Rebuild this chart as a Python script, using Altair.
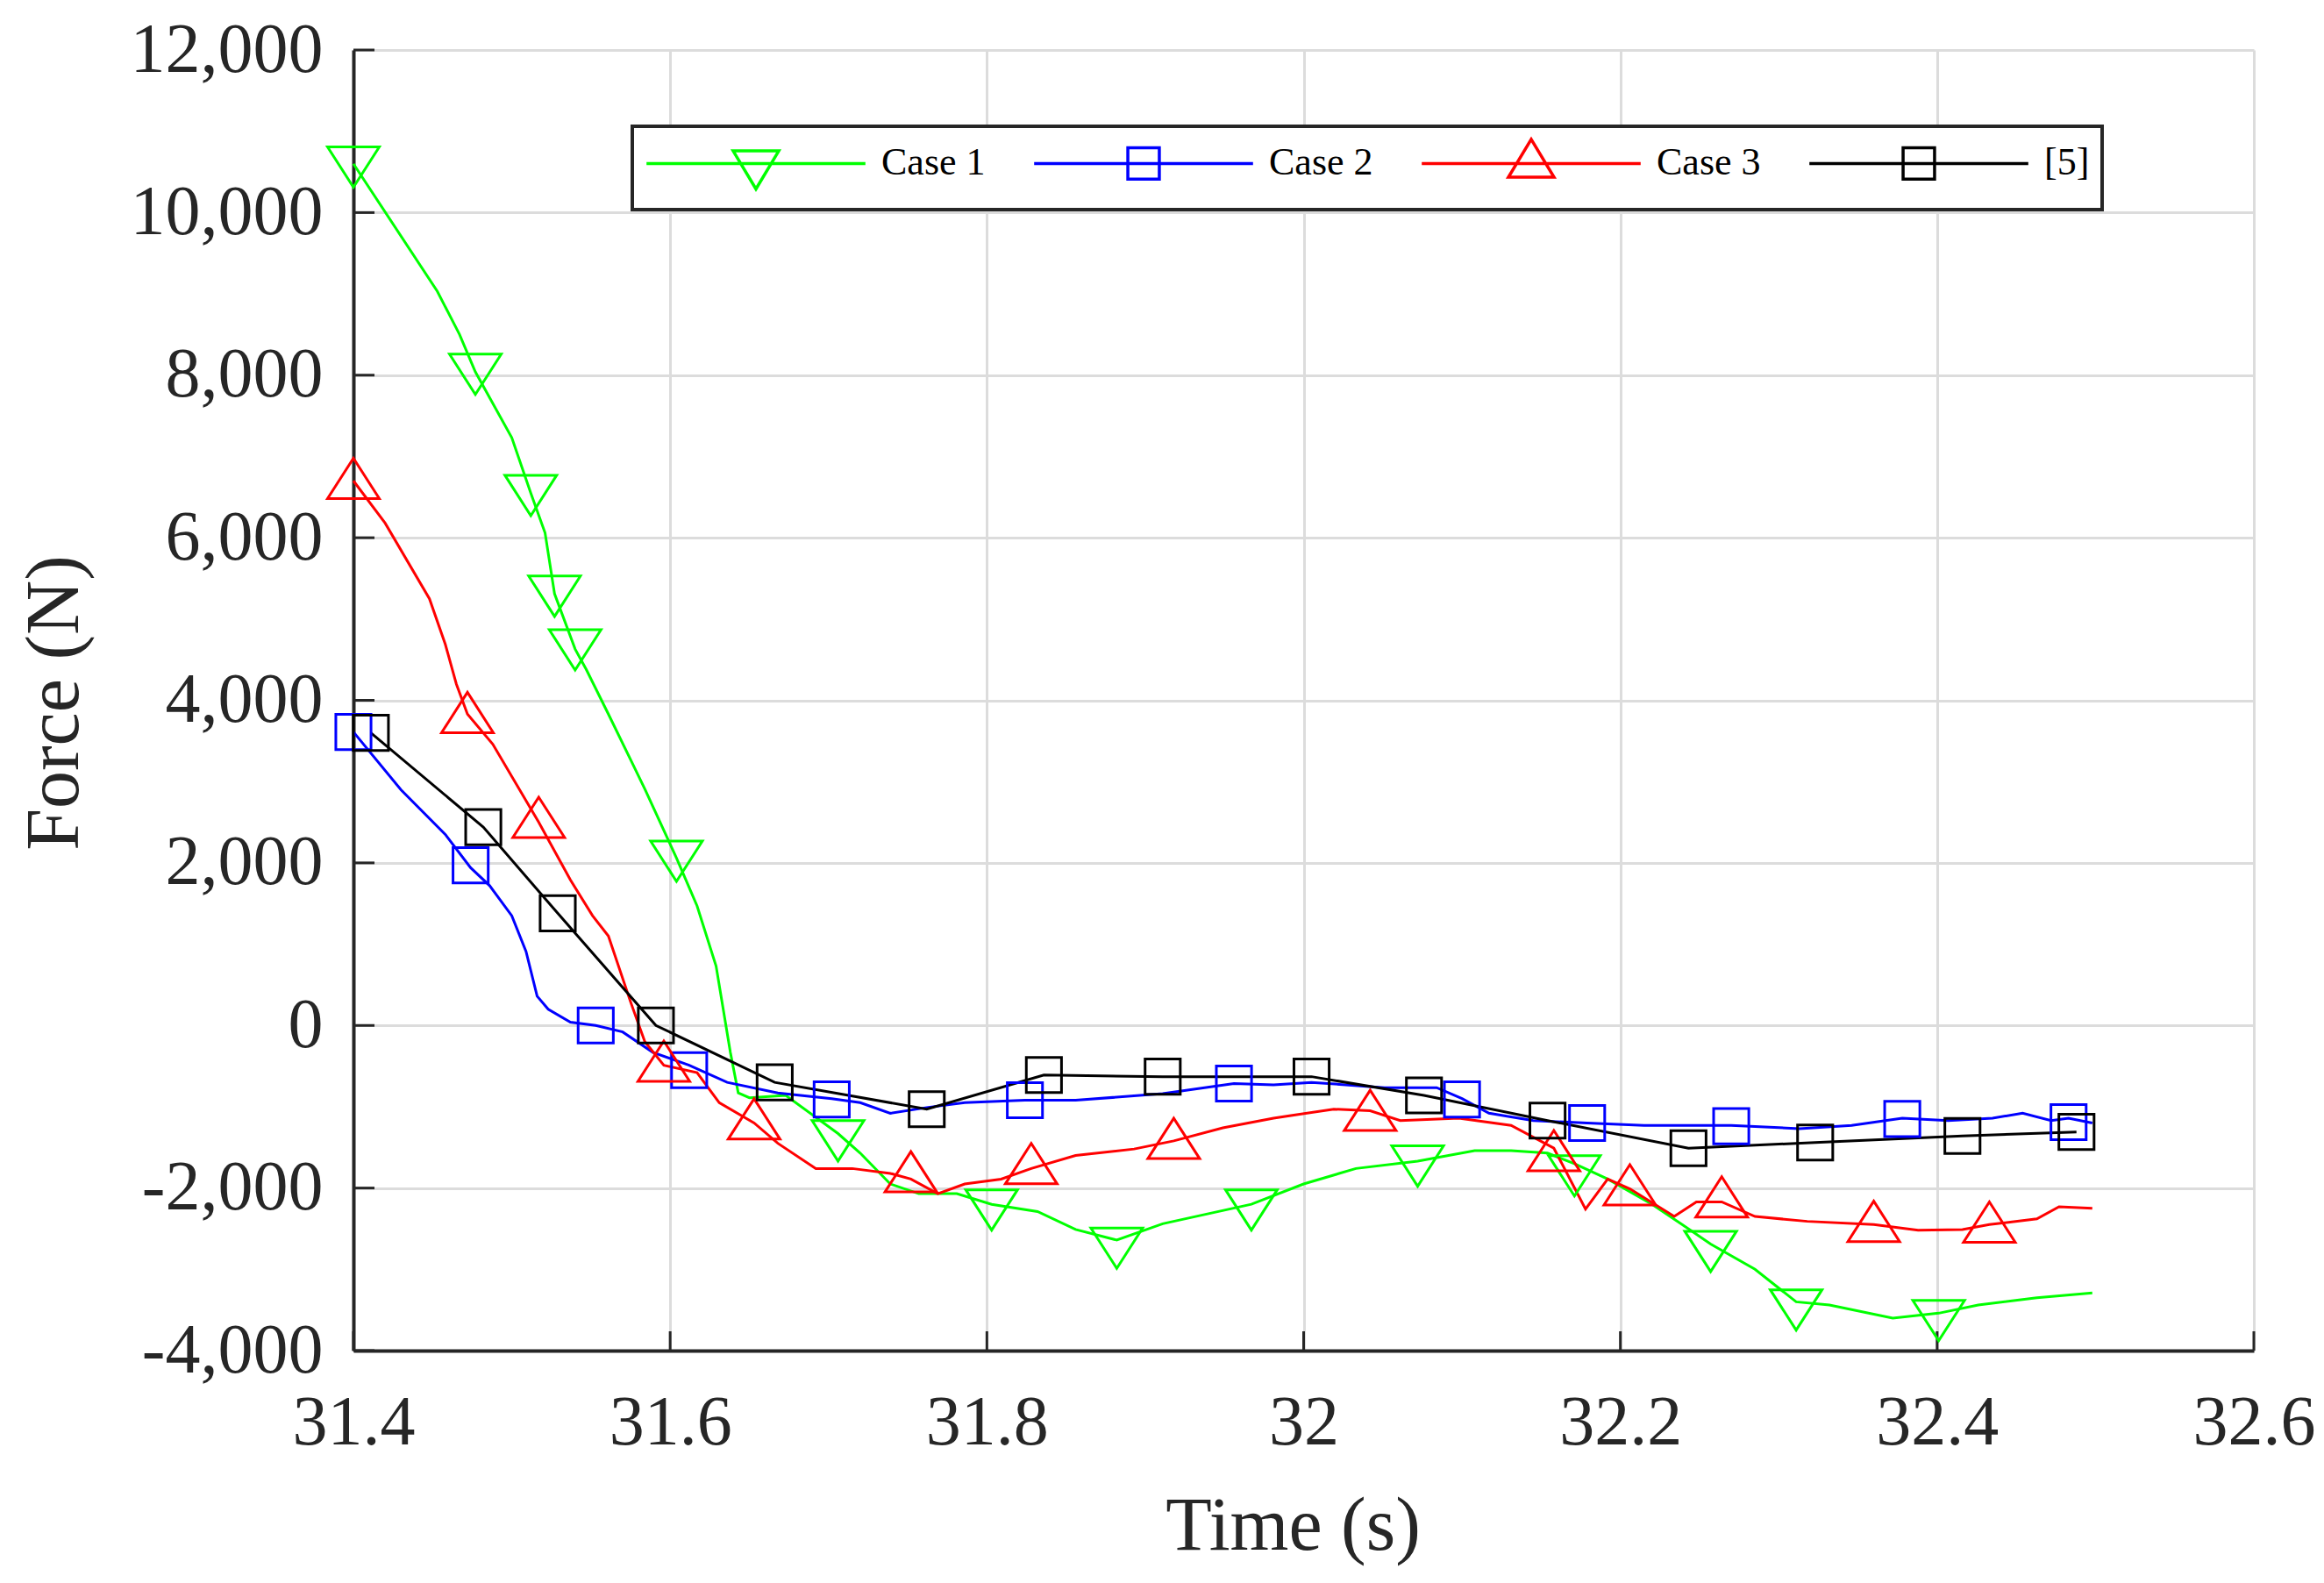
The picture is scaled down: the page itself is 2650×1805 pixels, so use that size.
import altair as alt
import pandas as pd

SERIES = ['Case 1', 'Case 2', 'Case 3', '[5]']
COLORS = ['#00ff00', '#0000ff', '#ff0000', '#000000']

# traced curves (time in s, force in N)
case1_t = [31.400, 31.453, 31.467, 31.477, 31.500, 31.512, 31.521, 31.527, 31.540, 31.547,
           31.561, 31.575, 31.584, 31.604, 31.617, 31.629, 31.638, 31.643, 31.650, 31.673,
           31.706, 31.720, 31.739, 31.757, 31.781, 31.803, 31.832, 31.856, 31.882, 31.911,
           31.967, 32.000, 32.033, 32.072, 32.108, 32.131, 32.154, 32.171, 32.192, 32.220,
           32.239, 32.257, 32.285, 32.311, 32.332, 32.372, 32.401, 32.426, 32.463, 32.498]
case1_f = [10600, 9030, 8500, 8040, 7230, 6550, 6060, 5310, 4630, 4380,
           3830, 3270, 2910, 2060, 1470, 730, -330, -830, -890, -860,
           -1330, -1570, -1950, -2070, -2070, -2200, -2290, -2510, -2640, -2440,
           -2200, -1950, -1760, -1670, -1540, -1540, -1570, -1700, -1890, -2200,
           -2450, -2690, -3000, -3400, -3440, -3600, -3540, -3440, -3350, -3290]

case2_t = [31.400, 31.430, 31.458, 31.474, 31.486, 31.500, 31.509, 31.516, 31.523, 31.537,
           31.553, 31.570, 31.589, 31.612, 31.636, 31.668, 31.702, 31.720, 31.739, 31.762,
           31.786, 31.824, 31.856, 31.911, 31.956, 31.981, 32.005, 32.051, 32.084, 32.100,
           32.117, 32.145, 32.179, 32.215, 32.239, 32.270, 32.313, 32.346, 32.378, 32.407,
           32.435, 32.454, 32.472, 32.483, 32.498]
case2_f = [3610, 2900, 2350, 1940, 1720, 1350, 910, 360, 200, 40,
           0, -80, -330, -490, -700, -830, -900, -950, -1080, -1010,
           -950, -920, -920, -840, -715, -730, -700, -765, -765, -900,
           -1080, -1170, -1200, -1230, -1230, -1230, -1270, -1230, -1140, -1170,
           -1140, -1080, -1170, -1140, -1200]

case3_t = [31.400, 31.420, 31.448, 31.458, 31.465, 31.472, 31.488, 31.517, 31.537, 31.551,
           31.561, 31.575, 31.584, 31.596, 31.617, 31.631, 31.653, 31.668, 31.692, 31.715,
           31.739, 31.752, 31.769, 31.786, 31.809, 31.828, 31.856, 31.893, 31.918, 31.949,
           31.981, 32.019, 32.042, 32.061, 32.098, 32.131, 32.158, 32.178, 32.192, 32.206,
           32.234, 32.248, 32.264, 32.285, 32.318, 32.360, 32.388, 32.416, 32.433, 32.463,
           32.477, 32.498]
case3_f = [6700, 6180, 5250, 4690, 4200, 3830, 3460, 2500, 1790, 1350,
           1100, 290, -200, -490, -580, -950, -1200, -1450, -1760, -1760,
           -1820, -1890, -2070, -1950, -1890, -1760, -1600, -1520, -1420, -1260,
           -1140, -1030, -1050, -1170, -1140, -1230, -1510, -2260, -1890, -2010,
           -2350, -2170, -2170, -2350, -2410, -2450, -2520, -2510, -2450, -2380,
           -2230, -2250]

ref5_t = [31.411, 31.482, 31.529, 31.591, 31.666, 31.762, 31.836, 31.911, 32.005, 32.076,
          32.154, 32.243, 32.323, 32.416, 32.488]
ref5_f = [3600, 2440, 1380, 0, -700, -1030, -610, -630, -630, -860,
          -1170, -1510, -1440, -1360, -1310]

# marker positions
case1_mt = [31.400, 31.477, 31.512, 31.527, 31.540, 31.604, 31.706, 31.803, 31.882, 31.967,
            32.072, 32.171, 32.257, 32.311, 32.401]
case1_mf = [10560, 8010, 6520, 5280, 4620, 2020, -1420, -2270, -2740, -2270,
            -1730, -1850, -2780, -3500, -3630]
case2_mt = [31.400, 31.474, 31.553, 31.612, 31.702, 31.824, 31.956, 32.100, 32.179, 32.270,
            32.378, 32.483]
case2_mf = [3610, 1970, 0, -550, -910, -920, -715, -910, -1200, -1240, -1150, -1190]
case3_mt = [31.400, 31.472, 31.517, 31.596, 31.653, 31.752, 31.828, 31.918, 32.042, 32.158,
            32.206, 32.264, 32.360, 32.433]
case3_mf = [6730, 3850, 2560, -440, -1150, -1800, -1700, -1390, -1045, -1540,
            -1960, -2110, -2410, -2420]

x_ticks = [31.4, 31.6, 31.8, 32.0, 32.2, 32.4, 32.6]
y_ticks = [-4000, -2000, 0, 2000, 4000, 6000, 8000, 10000, 12000]

W, H = 2167, 1483
FONT = 'Liberation Serif'
INK = '#262626'

# unfilled marker outlines (units of half the symbol width)
MARKER_PATHS = [
    'M-1,-0.78L1,-0.78L0,0.78Z',
    'M-0.68,-0.68L0.68,-0.68L0.68,0.68L-0.68,0.68Z',
    'M-1,0.78L1,0.78L0,-0.78Z',
    'M-0.68,-0.68L0.68,-0.68L0.68,0.68L-0.68,0.68Z',
]
# legend glyphs: line segment with the marker in the middle;
# the leading moves give every entry the same vertical extent
LEGEND_BOX = 'M-4.8,-1.2M-4.8,1.2'
LEGEND_PATHS = [
    LEGEND_BOX + 'M-4.8,0L4.8,0M-1,-0.55L1,-0.55L0,1.12Z',
    LEGEND_BOX + 'M-4.8,0L4.8,0M-0.69,-0.69L0.69,-0.69L0.69,0.69L-0.69,0.69Z',
    LEGEND_BOX + 'M-4.8,0L4.8,0M-1,0.6L1,0.6L0,-1.06Z',
    LEGEND_BOX + 'M-4.8,0L4.8,0M-0.69,-0.69L0.69,-0.69L0.69,0.69L-0.69,0.69Z',
]


def long_frame(pairs):
    frames = []
    for name, t, f in pairs:
        frames.append(pd.DataFrame({'series': name, 't': t, 'f': f}))
    return pd.concat(frames, ignore_index=True)


line_df = long_frame([
    ('Case 1', case1_t, case1_f),
    ('Case 2', case2_t, case2_f),
    ('Case 3', case3_t, case3_f),
    ('[5]', ref5_t, ref5_f),
])
mark_df = long_frame([
    ('Case 1', case1_mt, case1_mf),
    ('Case 2', case2_mt, case2_mf),
    ('Case 3', case3_mt, case3_mf),
    ('[5]', ref5_t, ref5_f),
])

x_scale = alt.Scale(domain=[31.4, 32.6], nice=False, zero=False)
y_scale = alt.Scale(domain=[-4000, 12000], nice=False, zero=False)
color_scale = alt.Scale(domain=SERIES, range=COLORS)

x_axis = alt.Axis(
    values=x_ticks, ticks=False, labelFlush=False, labelOverlap=False, labelLimit=500,
    labelExpr="format(datum.value, '~g')",
    labelFont=FONT, labelFontSize=80, labelColor=INK, labelPadding=43,
    domainColor=INK, domainWidth=4, gridColor='#dcdcdc', gridWidth=3,
    title='Time (s)', titleFont=FONT, titleFontSize=86, titleFontWeight='normal',
    titleColor=INK, titleX=1071, titleY=226, titleBaseline='alphabetic', titleAlign='center'
)
y_axis = alt.Axis(
    values=y_ticks, ticks=False, labelOverlap=False, labelLimit=500,
    labelExpr="replace(format(datum.value, ','), '\u2212', '-')",
    labelFont=FONT, labelFontSize=80, labelColor=INK, labelPadding=35,
    domainColor=INK, domainWidth=4, gridColor='#dcdcdc', gridWidth=3,
    title='Force (N)', titleFont=FONT, titleFontSize=86, titleFontWeight='normal',
    titleColor=INK, titleAngle=270, titleX=-315, titleY=744,
    titleBaseline='alphabetic', titleAlign='center'
)

X = alt.X('t:Q', scale=x_scale, axis=x_axis)
Y = alt.Y('f:Q', scale=y_scale, axis=y_axis)

legend = alt.Legend(
    title=None, orient='none', legendX=318, legendY=87, direction='horizontal',
    symbolSize=2704, symbolStrokeWidth=3.5, symbolOffset=99, labelOffset=115,
    labelFont=FONT, labelFontSize=44, labelColor='black', columnPadding=48,
    padding=14, strokeColor=INK, fillColor='white'
)

lines = alt.Chart(line_df).mark_line(strokeWidth=3).encode(
    x=X, y=Y,
    color=alt.Color('series:N', scale=color_scale, legend=None)
)

markers = alt.Chart(mark_df).mark_point(filled=False, size=3481, strokeWidth=3, opacity=1).encode(
    x=X, y=Y,
    color=alt.Color('series:N', scale=color_scale, legend=None),
    shape=alt.Shape('series:N', scale=alt.Scale(domain=SERIES, range=MARKER_PATHS), legend=None)
)

# empty layer that only carries the legend
legend_layer = alt.Chart(mark_df).transform_filter('false').mark_point(
    filled=False, size=2704, strokeWidth=3.5, opacity=1
).encode(
    x=X, y=Y,
    color=alt.Color('series:N', scale=color_scale, legend=legend),
    shape=alt.Shape('series:N', scale=alt.Scale(domain=SERIES, range=LEGEND_PATHS), legend=legend)
)

# inward tick marks
y_tick_marks = alt.Chart(pd.DataFrame({'f': y_ticks})).mark_rule(color=INK, strokeWidth=3).encode(
    y=Y, x=alt.value(0), x2=alt.value(24)
)
x_tick_marks = alt.Chart(pd.DataFrame({'t': x_ticks})).mark_rule(color=INK, strokeWidth=3).encode(
    x=X, y=alt.value(H), y2=alt.value(H - 22)
)

chart = alt.layer(
    lines, x_tick_marks, y_tick_marks, markers, legend_layer
).resolve_scale(
    color='independent', shape='independent'
).properties(
    width=W, height=H,
    autosize=alt.AutoSizeParams(type='none'),
    padding={'left': 395, 'top': 49, 'right': 72, 'bottom': 255},
    background='white'
).configure_view(
    stroke=None
).configure_legend(
    strokeWidth=4
)

chart.save('out.html', embed_options={'renderer': 'svg', 'actions': False})
